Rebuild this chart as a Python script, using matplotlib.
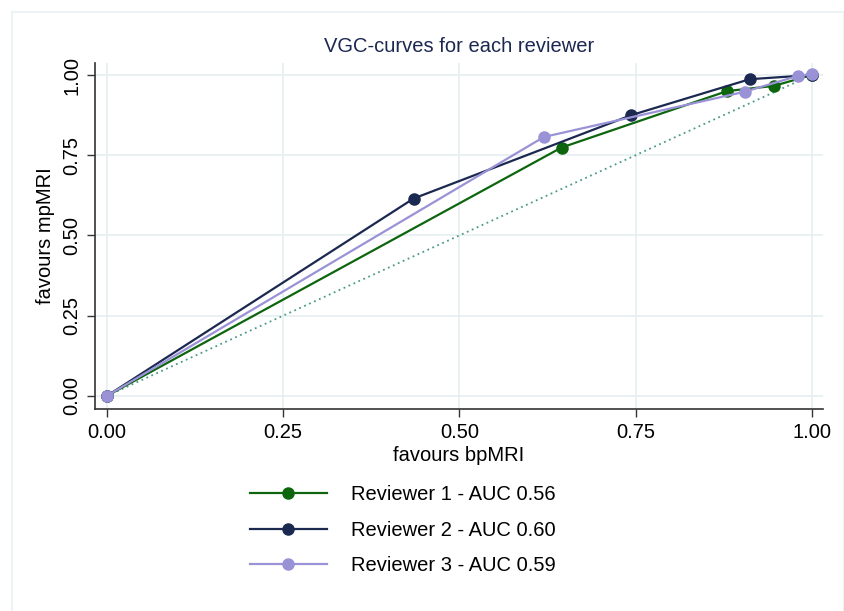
import numpy as np
import matplotlib
matplotlib.use("Agg")
import matplotlib.pyplot as plt
from matplotlib.patches import Rectangle

plt.rcParams["font.family"] = ["Liberation Sans", "DejaVu Sans"]

# VGC points (bpMRI, mpMRI)
rev1_x = [0.0, 0.645, 0.880, 0.946, 1.0]
rev1_y = [0.0, 0.774, 0.950, 0.966, 1.0]
rev2_x = [0.0, 0.435, 0.744, 0.912, 1.0]
rev2_y = [0.0, 0.615, 0.875, 0.987, 1.0]
rev3_x = [0.0, 0.620, 0.905, 0.980, 1.0]
rev3_y = [0.0, 0.807, 0.948, 0.997, 1.003]

labels = ["Reviewer 1 - AUC 0.56", "Reviewer 2 - AUC 0.60", "Reviewer 3 - AUC 0.59"]
colors = ["#0d650d", "#1b2850", "#9a92d6"]
ticks = [0.0, 0.25, 0.5, 0.75, 1.0]

fig = plt.figure(figsize=(8.44, 6.11), dpi=100)
# faint outer frame
fig.patches.append(Rectangle((12 / 844, -0.01), 832 / 844, 1.01 - 12 / 611,
                             transform=fig.transFigure, fill=False,
                             edgecolor="#eaf1f3", linewidth=1.2))

ax = fig.add_axes([95 / 844, 1 - 409 / 611, 728 / 844, 346 / 611])

ax.plot([0, 1], [0, 1], linestyle=(0, (1, 2)), color="#4a9a8a", linewidth=1.3, zorder=2)
series = [(rev1_x, rev1_y), (rev2_x, rev2_y), (rev3_x, rev3_y)]
for (xs, ys), lab, c in zip(series, labels, colors):
    ax.plot(xs, ys, color=c, linewidth=1.6, marker="o", markersize=8,
            label=lab, zorder=3)

ax.set_xlim(-0.017, 1.016)
ax.set_ylim(-0.041, 1.0375)
ax.set_xticks(ticks)
ax.set_yticks(ticks)
ax.set_xticklabels(["%.2f" % t for t in ticks])
ax.set_yticklabels(["%.2f" % t for t in ticks], rotation=90, va="center")
ax.tick_params(labelsize=14.5, length=6, width=1, color="#333333", pad=4)
ax.grid(True, color="#e6eff1", linewidth=1.2, zorder=0)
ax.set_axisbelow(True)
for s in ["top", "right"]:
    ax.spines[s].set_visible(False)
for s in ["left", "bottom"]:
    ax.spines[s].set_color("#333333")
    ax.spines[s].set_linewidth(1.2)

ax.set_xlabel("favours bpMRI", fontsize=14.5, labelpad=3)
ax.set_ylabel("favours mpMRI", fontsize=14.5, labelpad=5)
ax.set_title("VGC-curves for each reviewer", fontsize=14.5, color="#1b2850", pad=8)

leg = fig.legend(loc="upper left", bbox_to_anchor=(232 / 844, 1 - 467 / 611),
                 frameon=False, fontsize=14.5, handlelength=3.8, handletextpad=1.2,
                 labelspacing=0.82)

fig.savefig("out.png", dpi=100, facecolor="white")
